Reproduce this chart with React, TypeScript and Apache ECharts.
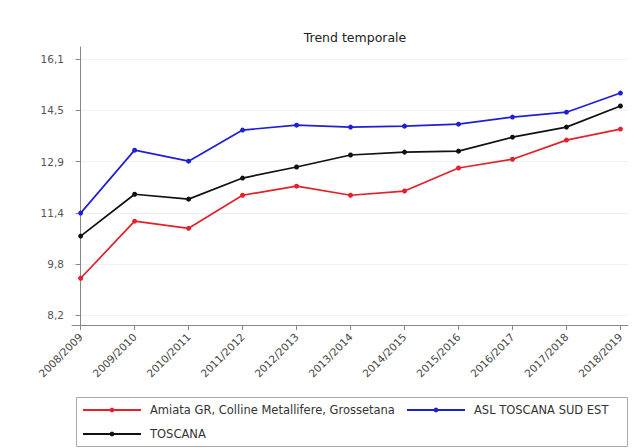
import React, { useEffect, useRef } from "react";
import * as echarts from "echarts";

const categories = [
  "2008/2009", "2009/2010", "2010/2011", "2011/2012", "2012/2013", "2013/2014",
  "2014/2015", "2015/2016", "2016/2017", "2017/2018", "2018/2019",
];
const amiata = [9.34, 11.1, 10.88, 11.9, 12.18, 11.9, 12.03, 12.74, 13.01, 13.6, 13.94];
const aslSudEst = [11.35, 13.29, 12.95, 13.91, 14.06, 14.0, 14.03, 14.09, 14.31, 14.46, 15.05];
const toscana = [10.64, 11.93, 11.78, 12.43, 12.77, 13.14, 13.23, 13.26, 13.69, 14.0, 14.65];
const yTicks = [8.2, 9.78, 11.36, 12.94, 14.52, 16.1];

const seriesNames = [
  "Amiata GR, Colline Metallifere, Grossetana",
  "ASL TOSCANA SUD EST",
  "TOSCANA",
];
const seriesColors = ["#e3212b", "#1f1fd6", "#111111"];

const FONT = "'DejaVu Sans', Verdana, sans-serif";

export default function App() {
  const ref = useRef<HTMLDivElement>(null);
  useEffect(() => {
    if (!ref.current) return;
    const chart = echarts.init(ref.current, null, { renderer: "svg" });
    const xIdx = categories.map((_, i) => i);
    const mk = (name: string, values: number[], color: string) => ({
      name,
      type: "line",
      data: values.map((v, i) => [i, v]),
      symbol: "circle",
      symbolSize: 5,
      itemStyle: { color },
      lineStyle: { color, width: 1.7 },
    });
    const legendText = { color: "#333", fontSize: 11.5, fontFamily: FONT, padding: [0, 0, 0, 4] };
    const legendBase = { padding: 0, itemWidth: 58, itemHeight: 6, itemGap: 10, textStyle: legendText };
    chart.setOption({
      animation: false,
      backgroundColor: "#ffffff",
      title: {
        text: "Trend temporale",
        left: 350,
        top: 26,
        textAlign: "center",
        textStyle: { fontSize: 12.5, fontWeight: "normal", color: "#222", fontFamily: FONT },
      },
      grid: { left: 72, right: 11, top: 47, bottom: 123 },
      xAxis: {
        type: "value",
        min: -0.16,
        max: 10.14,
        axisLine: { show: true, lineStyle: { color: "#888", width: 1 } },
        axisTick: { show: true, length: 5, customValues: xIdx, lineStyle: { color: "#888" } },
        axisLabel: {
          customValues: xIdx,
          rotate: 45,
          fontSize: 10.5,
          color: "#444",
          fontFamily: FONT,
          margin: 10,
          formatter: (v: number) => categories[Math.round(v)] ?? "",
        },
        splitLine: { show: false },
      },
      yAxis: {
        type: "value",
        min: 7.9,
        max: 16.47,
        axisLine: { show: true, lineStyle: { color: "#888", width: 1 } },
        axisTick: { show: true, length: 5, customValues: yTicks, lineStyle: { color: "#888" } },
        axisLabel: {
          customValues: yTicks,
          fontSize: 10.5,
          color: "#555",
          fontFamily: FONT,
          margin: 8,
          formatter: (v: number) => v.toFixed(1).replace(".", ","),
        },
        splitLine: { show: true, lineStyle: { color: "#f0f0f0", width: 1 } },
      },
      legend: [
        { ...legendBase, left: 82, top: 404, data: [seriesNames[0]] },
        { ...legendBase, left: 406, top: 404, data: [seriesNames[1]] },
        { ...legendBase, left: 82, top: 428, data: [seriesNames[2]] },
      ],
      graphic: [
        {
          type: "rect",
          shape: { x: 76.5, y: 397.5, width: 551, height: 49 },
          style: { fill: "none", stroke: "#aaaaaa", lineWidth: 1 },
          silent: true,
        },
      ],
      series: [
        mk(seriesNames[0], amiata, seriesColors[0]),
        mk(seriesNames[1], aslSudEst, seriesColors[1]),
        mk(seriesNames[2], toscana, seriesColors[2]),
      ],
    });
    return () => chart.dispose();
  }, []);
  return (
    <div
      ref={ref}
      style={{ position: "absolute", left: 0, top: 0, width: 639, height: 448 }}
    />
  );
}
